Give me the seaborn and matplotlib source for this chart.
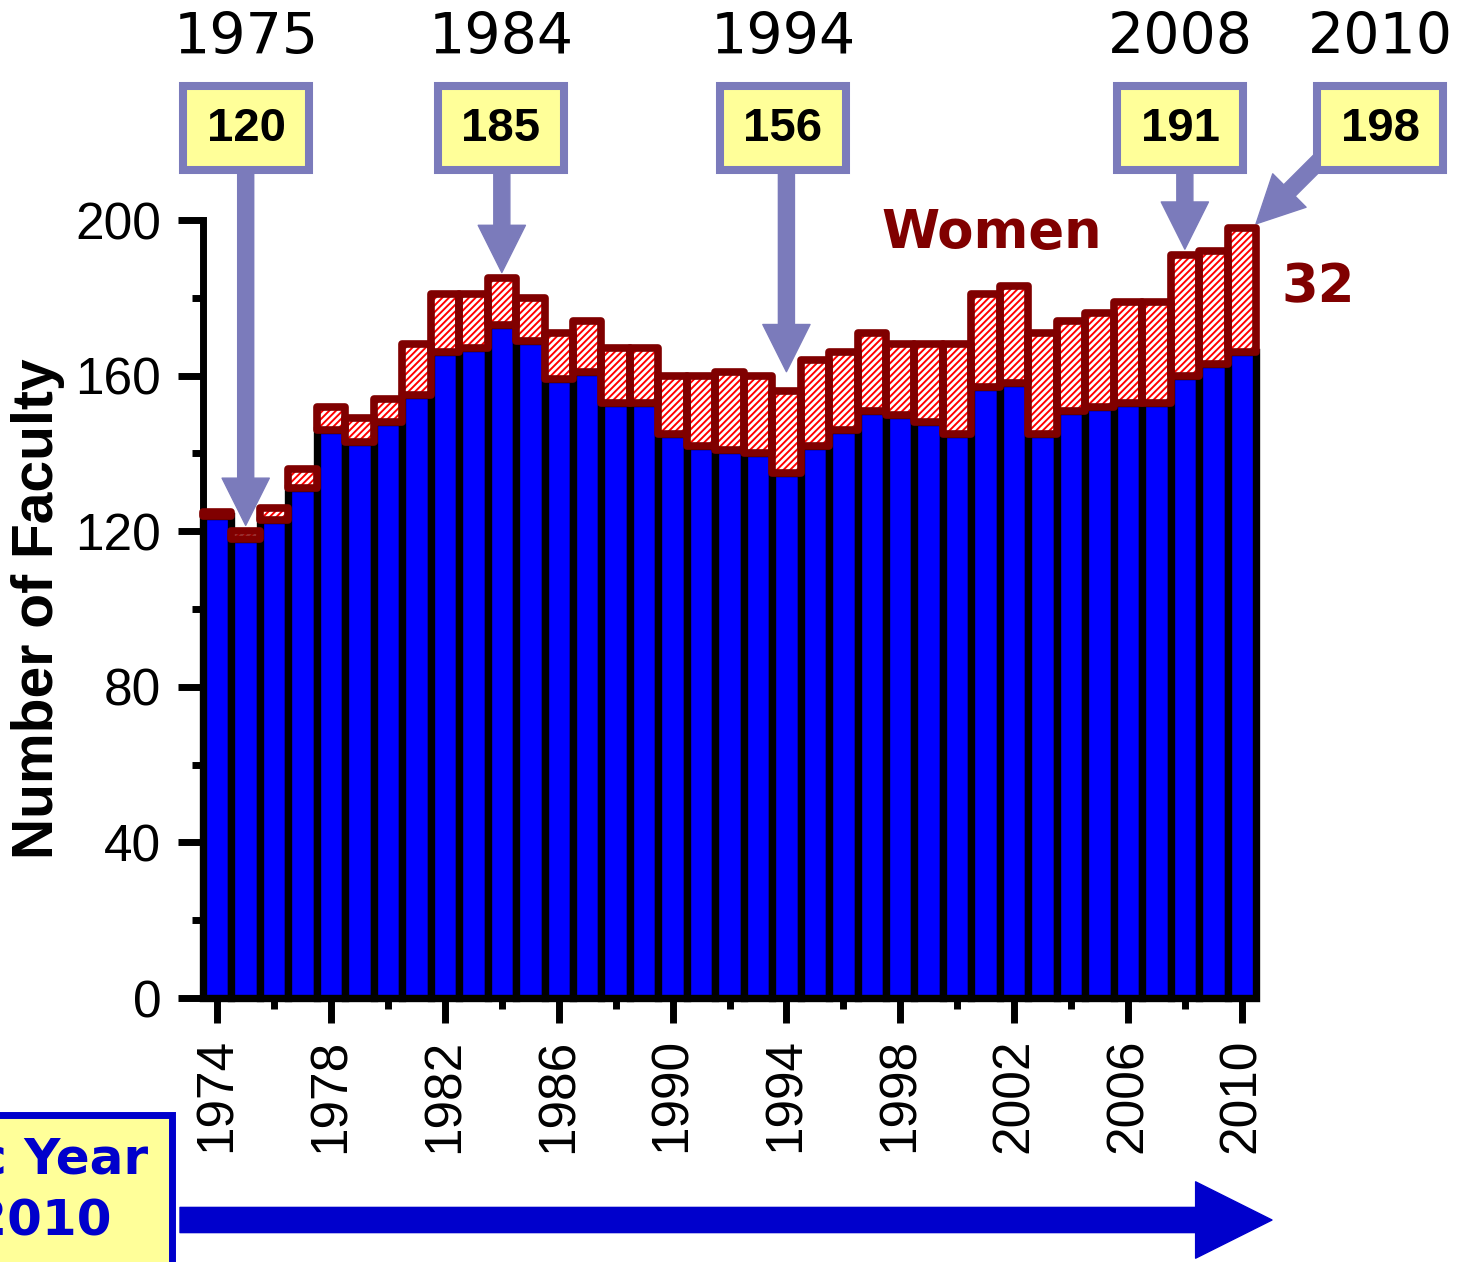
import matplotlib.pyplot as plt
import seaborn as sns
from matplotlib.patches import FancyArrowPatch, Rectangle
from matplotlib.ticker import MultipleLocator

# ---- data ---------------------------------------------------------------
years = list(range(1974, 2011))
men = [124, 118, 123, 131, 146, 143, 148, 155, 166, 167,
       173, 169, 159, 161, 153, 153, 145, 142, 141, 140,
       135, 142, 146, 151, 150, 148, 145, 157, 158, 145,
       151, 152, 153, 153, 160, 163, 166]
women = [1, 2, 3, 5, 6, 6, 6, 13, 15, 14,
         12, 11, 12, 13, 14, 14, 15, 18, 20, 20,
         21, 22, 20, 20, 18, 20, 23, 24, 25, 26,
         23, 24, 26, 26, 31, 29, 32]
callout_years = [1975, 1984, 1994, 2008, 2010]
year_span = ["1974", "2010"]

totals = [m + w for m, w in zip(men, women)]

# ---- layout (reference image pixels, origin top-left) --------------------
W, H = 1462, 1262
BLUE = "#0000ff"
DARK_RED = "#800000"
PERI = "#7b7bbb"
YELLOW = "#ffff99"
box_centres = [246, 501, 783, 1180, 1380]
arrow_gap = [1.5, 1.5, 5.0, 1.5, 0.0]


def fx(x):
    return x / W


def fy(y):
    return 1 - y / H


sns.set_theme(style="ticks")
plt.rcParams["font.family"] = ["Liberation Sans", "DejaVu Sans"]
plt.rcParams["text.color"] = "black"
plt.rcParams["axes.labelcolor"] = "black"
plt.rcParams["xtick.color"] = "black"
plt.rcParams["ytick.color"] = "black"
plt.rcParams["hatch.linewidth"] = 1.4

fig = plt.figure(figsize=(W / 100, H / 100), dpi=100)
ax = fig.add_axes([fx(203), fy(998), (1256 - 203) / W, (998 - 220) / H])

sns.barplot(x=years, y=men, native_scale=True, width=1.0, color=BLUE,
            saturation=1, edgecolor="black", linewidth=5.3, ax=ax, zorder=2)
ax.bar(years, women, bottom=men, width=1.0, color="white", edgecolor="red",
       hatch="/////", linewidth=0, zorder=3)
ax.bar(years, women, bottom=men, width=1.0, fill=False, edgecolor=DARK_RED,
       linewidth=5.5, joinstyle="round", zorder=4)
for p in ax.patches:
    p.set_clip_on(False)

ax.set_xlim(1973.5, 2010.5)
ax.set_ylim(0, 200)
ax.set_xticks(range(1974, 2011, 4))
ax.set_xticklabels([str(y) for y in range(1974, 2011, 4)], rotation=90)
ax.xaxis.set_minor_locator(MultipleLocator(2))
ax.set_yticks(range(0, 201, 40))
ax.yaxis.set_minor_locator(MultipleLocator(20))
ax.tick_params(which="major", length=18, width=5, labelsize=37,
               color="black", labelcolor="black")
ax.tick_params(axis="x", which="major", pad=11)
ax.tick_params(axis="y", which="major", pad=12)
ax.tick_params(which="minor", length=8, width=5, color="black")
sns.despine(ax=ax)
for side in ("left", "bottom"):
    ax.spines[side].set_linewidth(5)
    ax.spines[side].set_color("black")
ax.set_ylabel("Number of Faculty", fontsize=41, fontweight="bold",
              color="black")
ax.yaxis.set_label_coords((65 - 203) / 1053, 0.5)
ax.set_xlabel("")

# ---- callouts ------------------------------------------------------------
arrow_style = "simple,head_length=1,head_width=1,tail_width=0.34"
for year, cx, gap in zip(callout_years, box_centres, arrow_gap):
    total = totals[years.index(year)]
    fig.text(fx(cx), fy(38), str(year), ha="center", va="center",
             fontsize=41, family="DejaVu Sans", color="black")
    fig.add_artist(Rectangle((fx(cx - 63), fy(170)), 126 / W, 84 / H,
                             transform=fig.transFigure, facecolor=YELLOW,
                             edgecolor=PERI, linewidth=5.8, zorder=5))
    fig.text(fx(cx), fy(129), str(total), ha="center", va="center",
             fontsize=34, fontweight="bold", color="black", zorder=6)
    if year == years[-1]:
        tip = (year + 0.5, total + 1)
        start = (1335, H - 145)
    else:
        tip = (year, total + gap)
        # keep the pointer vertical: start straight above the bar it marks
        start = (ax.transData.transform((year, 0))[0], H - 160)
    ax.annotate("", xy=tip, xycoords="data", xytext=start,
                textcoords="figure pixels", annotation_clip=False,
                arrowprops=dict(arrowstyle=arrow_style, mutation_scale=34,
                                color=PERI, shrinkA=0, shrinkB=0))

fig.text(fx(992), fy(233), "Women", ha="center", va="center", fontsize=38,
         fontweight="bold", color=DARK_RED, family="DejaVu Sans")
fig.text(fx(1318), fy(287), str(women[-1]), ha="center", va="center",
         fontsize=38, fontweight="bold", color=DARK_RED, family="DejaVu Sans")

# ---- bottom-left year box and timeline arrow -----------------------------
fig.add_artist(Rectangle((fx(-300), fy(1400)), 472 / W, 285 / H,
                         transform=fig.transFigure, facecolor=YELLOW,
                         edgecolor="#0000cc", linewidth=5, zorder=5))
fig.text(fx(148), fy(1160), "Academic Year", ha="right", va="center",
         fontsize=36, fontweight="bold", color="#0000cc",
         family="DejaVu Sans", zorder=6)
fig.text(fx(112), fy(1222), "\u2013".join(year_span), ha="right",
         va="center", fontsize=36, fontweight="bold", color="#0000cc",
         family="DejaVu Sans", zorder=6)
fig.add_artist(FancyArrowPatch((fx(180), fy(1220)), (fx(1272), fy(1220)),
                               transform=fig.transFigure,
                               arrowstyle="simple,head_length=1,head_width=1,tail_width=0.33",
                               mutation_scale=55, color="#0000cc",
                               shrinkA=0, shrinkB=0))

fig.savefig("out.png", dpi=100)
plt.close(fig)
